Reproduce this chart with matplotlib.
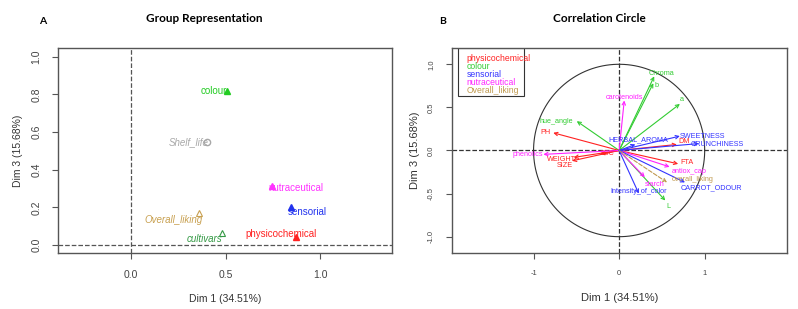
import numpy as np
import matplotlib
matplotlib.use('Agg')
import matplotlib.pyplot as plt

plt.rcParams['font.family'] = ['Liberation Sans', 'DejaVu Sans']

# ---- panel A: group representation ----
groups = ['colour', 'Shelf_life', 'nutraceutical', 'sensorial',
          'physicochemical', 'Overall_liking', 'cultivars']
grp_x = [0.506, 0.400, 0.744, 0.845, 0.871, 0.360, 0.483]
grp_y = [0.820, 0.545, 0.315, 0.203, 0.041, 0.168, 0.062]

# ---- panel B: correlation circle ----
var_names = ['Chroma', 'b', 'a', 'hue_angle', 'L',
             'PH', 'DM', 'FTA', 'WEIGHT', 'SIZE', 'SSC',
             'carotenoids', 'phenolics', 'antiox_cap', 'starch',
             'SWEETNESS', 'CRUNCHINESS', 'HERBAL_AROMA', 'CARROT_ODOUR', 'Intensity_of_color',
             'overall_liking']
var_group = ['colour'] * 5 + ['physicochemical'] * 6 + ['nutraceutical'] * 4 + \
            ['sensorial'] * 5 + ['Overall_liking']
var_x = [0.41, 0.40, 0.71, -0.495, 0.54,
         -0.77, 0.675, 0.69, -0.53, -0.55, -0.22,
         0.06, -0.885, 0.59, 0.30,
         0.71, 0.93, 0.19, 0.77, 0.23,
         0.56]
var_y = [0.86, 0.78, 0.54, 0.34, -0.58,
         0.205, 0.07, -0.155, -0.08, -0.12, -0.04,
         0.58, -0.045, -0.19, -0.31,
         0.167, 0.08, 0.07, -0.37, -0.50,
         -0.37]
legend_groups = ['physicochemical', 'colour', 'sensorial', 'nutraceutical', 'Overall_liking']

colA = {'colour': '#22cc22', 'Shelf_life': '#a8a8a8', 'nutraceutical': '#ff33ff',
        'sensorial': '#2233ee', 'physicochemical': '#ff2222',
        'Overall_liking': '#c8a050', 'cultivars': '#339944'}
colB = {'colour': '#33cc33', 'physicochemical': '#ff2222', 'sensorial': '#3333ff',
        'nutraceutical': '#ff22ff', 'Overall_liking': '#c09a50'}

fig = plt.figure(figsize=(7.98, 3.09), dpi=100)

# label placement (offsets in data units, alignment)
lab_pos = {'colour': (0.0, 0.0, 'right', False),
           'Shelf_life': (-0.093, 0.0, 'center', True),
           'nutraceutical': (-0.02, -0.01, 'left', False),
           'sensorial': (-0.015, -0.028, 'left', False),
           'physicochemical': (-0.08, 0.017, 'center', False),
           'Overall_liking': (-0.133, -0.035, 'center', True),
           'cultivars': (-0.093, -0.032, 'center', True)}

axA = fig.add_axes([0.0727, 0.181, 0.4185, 0.664])
for g, x, y in zip(groups, grp_x, grp_y):
    c = colA[g]
    if g == 'Shelf_life':
        axA.plot(x, y, 'o', color=c, ms=4.5, mfc='none', mew=1)
    elif g in ('Overall_liking', 'cultivars'):
        axA.plot(x, y, '^', color=c, ms=5, mfc='none', mew=0.8)
    else:
        axA.plot(x, y, '^', color=c, ms=5)
    dx, dy, ha, it = lab_pos[g]
    axA.text(x + dx, y + dy, g, color=c, fontsize=7, ha=ha, va='center',
             style='italic' if it else 'normal')
axA.axhline(0, color='#555555', ls='--', lw=0.9)
axA.axvline(0, color='#555555', ls='--', lw=0.9)
axA.set_xlim(-0.386, 1.38)
axA.set_ylim(-0.042, 1.046)
axA.set_xticks([0.0, 0.5, 1.0])
axA.set_yticks([0.0, 0.2, 0.4, 0.6, 0.8, 1.0])
axA.set_xticklabels(['0.0', '0.5', '1.0'], fontsize=7.5, color='#444444')
axA.set_yticklabels(['0.0', '0.2', '0.4', '0.6', '0.8', '1.0'], fontsize=7.5,
                    color='#444444', rotation=90, va='center')
axA.set_xlabel('Dim 1 (34.51%)', fontsize=7.5, color='#333333', labelpad=10)
axA.set_ylabel('Dim 3 (15.68%)', fontsize=7.5, color='#333333', labelpad=6)
axA.tick_params(length=4, width=0.8, color='#555555', pad=8)

# ---- panel B ----
blab = {'Chroma': (0.08, 0.03, 'center'), 'b': (0.04, -0.03, 'center'),
        'a': (0.02, 0.05, 'center'), 'hue_angle': (-0.04, 0.0, 'right'),
        'L': (0.04, -0.07, 'center'), 'PH': (-0.03, 0.0, 'right'),
        'DM': (0.02, 0.03, 'left'), 'FTA': (0.03, 0.01, 'left'),
        'WEIGHT': (-0.14, -0.02, 'center'), 'SIZE': (-0.08, -0.05, 'center'),
        'SSC': (0.08, 0.0, 'center'), 'carotenoids': (0.0, 0.04, 'center'),
        'phenolics': (0.0, 0.0, 'right'), 'antiox_cap': (0.03, -0.05, 'left'),
        'starch': (0.11, -0.09, 'center'), 'SWEETNESS': (0.0, 0.0, 'left'),
        'CRUNCHINESS': (-0.1, -0.01, 'left'), 'HERBAL_AROMA': (0.03, 0.05, 'center'),
        'CARROT_ODOUR': (-0.05, -0.065, 'left'), 'Intensity_of_color': (0.0, 0.02, 'center'),
        'overall_liking': (0.05, 0.035, 'left')}

axB = fig.add_axes([0.566, 0.181, 0.42, 0.664])
th = np.linspace(0, 2 * np.pi, 300)
axB.plot(np.cos(th), np.sin(th), color='#333333', lw=0.8)
axB.axhline(0, color='#333333', ls='--', lw=0.9)
axB.axvline(0, color='#333333', ls='--', lw=0.9)
for n, g, x, y in zip(var_names, var_group, var_x, var_y):
    c = colB[g]
    ls = '--' if g == 'Overall_liking' else '-'
    axB.annotate('', xy=(x, y), xytext=(0, 0),
                 arrowprops=dict(arrowstyle='->', color=c, lw=0.8, ls=ls,
                                 shrinkA=0, shrinkB=0, mutation_scale=6))
    dx, dy, ha = blab[n]
    axB.text(x + dx, y + dy, n, color=c, fontsize=5.2, ha=ha, va='center')
axB.set_xlim(-1.957, 1.96)
axB.set_ylim(-1.19, 1.19)
axB.set_xticks([-1, 0, 1])
axB.set_yticks([-1.0, -0.5, 0.0, 0.5, 1.0])
axB.set_xticklabels(['-1', '0', '1'], fontsize=5.5, color='#444444')
axB.set_yticklabels(['-1.0', '-0.5', '0.0', '0.5', '1.0'], fontsize=5.5,
                    color='#444444', rotation=90, va='center')
axB.set_xlabel('Dim 1 (34.51%)', fontsize=8, color='#333333', labelpad=12)
axB.set_ylabel('Dim 3 (15.68%)', fontsize=8, color='#333333', labelpad=6)
axB.tick_params(length=4, width=0.8, color='#555555', pad=8)

leg_y0 = 1.07
for i, g in enumerate(legend_groups):
    axB.text(-1.78, leg_y0 - i * 0.095, g, color=colB[g], fontsize=6.2,
             ha='left', va='center')
axB.add_patch(plt.Rectangle((-1.88, 0.63), 0.77, 0.56, fill=False,
                            ec='#333333', lw=0.8))

for ax in (axA, axB):
    for s in ax.spines.values():
        s.set_color('#555555')
        s.set_linewidth(1)

fig.text(0.256, 0.94, 'Group Representation', fontsize=8.5, fontweight='bold',
         ha='center', va='center', family=['Lato', 'DejaVu Sans'])
fig.text(0.054, 0.93, 'A', fontsize=7.5, fontweight='bold', ha='center',
         va='center', family=['Lato', 'DejaVu Sans'])
fig.text(0.751, 0.94, 'Correlation Circle', fontsize=8.5, fontweight='bold',
         ha='center', va='center', family=['Lato', 'DejaVu Sans'])
fig.text(0.555, 0.93, 'B', fontsize=7.5, fontweight='bold', ha='center',
         va='center', family=['Lato', 'DejaVu Sans'])

fig.savefig('out.png', dpi=100)
